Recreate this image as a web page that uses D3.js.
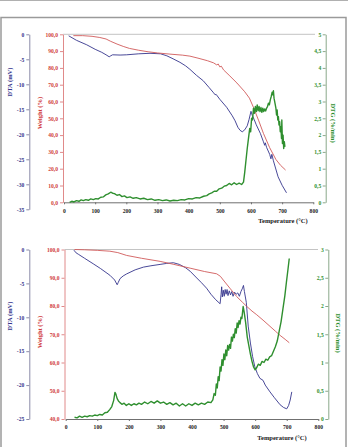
<!DOCTYPE html>
<html>
<head>
<meta charset="utf-8">
<script src="https://cdn.jsdelivr.net/npm/d3@7"></script>
<style>
body { margin: 0; background: #fff; }
svg text { font-family: "Liberation Serif", "Times New Roman", serif; font-weight: bold; }
</style>
</head>
<body>
<svg id="chart" width="348" height="447"></svg>
<script>
// ---- data: [temperature °C, value] ----
const tempTicks = [0, 100, 200, 300, 400, 500, 600, 700, 800];

// panel 1
const topDtaTicks = [-35, -30, -25, -20, -15, -10, -5, 0];
const topWeightTicks = [0, 10, 20, 30, 40, 50, 60, 70, 80, 90, 100];
const topDtgTicks = [0, 0.5, 1, 1.5, 2, 2.5, 3, 3.5, 4, 4.5, 5];

const topWeight = [[30,99.2],[60,99.2],[90,98.8],[115,98.1],[135,97.2],[150,95.8],[170,94.2],[190,92.8],[210,91.6],[240,90.5],[270,89.6],[300,88.9],[340,88.2],[380,87.6],[404,87.0],[430,85.8],[460,84.3],[480,83.0],[490,81.8],[495,82.3],[500,80.6],[505,81.0],[512,78.8],[530,75.6],[555,71.0],[580,65.8],[595,62.0],[608,56.5],[625,48.5],[640,41.0],[660,32.5],[680,25.5],[695,22.0],[711,19.2]];

const topDta = [[15,-0.3],[40,-1.2],[73,-2.1],[100,-3.0],[121,-3.6],[135,-4.1],[145,-4.5],[150,-4.3],[156,-4.1],[180,-4.15],[201,-4.1],[240,-3.9],[276,-3.8],[310,-3.9],[330,-4.3],[350,-4.9],[372,-5.6],[390,-6.3],[404,-7.0],[425,-8.2],[447,-9.3],[465,-10.6],[480,-11.7],[485,-12.1],[488,-12.0],[500,-13.0],[522,-14.6],[540,-16.3],[549,-17.3],[558,-18.6],[565,-19.2],[572,-19.5],[580,-19.1],[588,-18.3],[594,-17.0],[600,-15.4],[604,-16.2],[610,-17.0],[617,-18.1],[630,-19.8],[640,-21.5],[644,-22.2],[646,-21.7],[650,-22.6],[660,-24.0],[664,-24.9],[667,-24.0],[672,-25.3],[687,-28.5],[700,-30.2],[714,-31.7]];

const topDtg = [[18,0.00],[25,0.03],[32,0.01],[40,0.05],[48,0.03],[55,0.07],[62,0.05],[70,0.08],[78,0.06],[86,0.1],[94,0.08],[102,0.11],[110,0.1],[118,0.15],[126,0.16],[134,0.22],[142,0.25],[150,0.3],[156,0.27],[162,0.26],[170,0.21],[178,0.23],[186,0.17],[194,0.19],[202,0.14],[212,0.16],[222,0.12],[232,0.14],[244,0.1],[256,0.12],[268,0.08],[280,0.1],[292,0.06],[304,0.08],[316,0.05],[328,0.07],[340,0.04],[352,0.06],[364,0.05],[376,0.08],[388,0.07],[400,0.11],[412,0.1],[424,0.14],[436,0.13],[448,0.18],[458,0.2],[466,0.25],[474,0.28],[482,0.33],[490,0.33],[498,0.4],[506,0.42],[514,0.48],[522,0.5],[530,0.56],[538,0.52],[546,0.58],[554,0.53],[562,0.57],[570,0.53],[576,0.6],[580,0.9],[584,1.25],[588,1.6],[592,1.9],[596,2.2],[599,2.1],[602,2.5],[605,2.45],[608,2.8],[611,2.65],[614,2.85],[617,2.7],[620,2.9],[623,2.72],[626,2.85],[629,2.7],[632,2.82],[635,2.68],[638,2.8],[641,2.7],[644,2.78],[647,2.72],[650,2.8],[653,2.85],[656,2.95],[659,2.9],[662,3.05],[665,3.15],[668,3.28],[670,3.2],[672,3.32],[674,3.1],[677,2.95],[680,2.8],[682,2.6],[684,2.75],[686,2.45],[688,2.55],[690,2.3],[692,2.4],[694,2.1],[696,2.25],[698,1.9],[699,2.45],[701,1.75],[703,2.0],[705,1.6],[707,1.8],[709,1.65]];

// panel 2
const botDtaTicks = [-25, -20, -15, -10, -5, 0];
const botWeightTicks = [40, 50, 60, 70, 80, 90, 100];
const botDtgTicks = [0, 0.5, 1, 1.5, 2, 2.5, 3];

const botWeight = [[28,100],[60,99.9],[100,99.7],[140,99.4],[165,98.9],[193,97.9],[240,96.9],[299,95.8],[340,94.8],[394,93.4],[440,92.2],[478,91.4],[490,90.5],[499,89.2],[520,86.3],[541,83.4],[560,81.3],[573,79.9],[590,78.2],[605,76.9],[625,75.0],[647,72.8],[665,71.0],[679,69.6],[695,68.2],[708,67.0]];

const botDta = [[26,-0.1],[33,-0.5],[40,-0.7],[60,-1.3],[87,-2.1],[110,-2.8],[140,-3.8],[155,-4.5],[163,-5.2],[166,-4.9],[172,-4.3],[182,-3.9],[193,-3.6],[220,-3.0],[246,-2.6],[270,-2.4],[299,-2.2],[320,-2.05],[341,-1.95],[360,-2.2],[380,-2.7],[394,-3.2],[415,-4.2],[430,-4.9],[446,-5.7],[460,-6.6],[475,-7.4],[489,-8.0],[492,-6.6],[494,-5.5],[496,-7.0],[499,-6.0],[502,-6.9],[505,-5.9],[508,-6.6],[511,-5.9],[514,-6.8],[518,-6.1],[522,-6.7],[526,-6.2],[530,-6.9],[535,-6.3],[540,-6.6],[545,-6.4],[550,-6.9],[555,-6.2],[560,-5.7],[563,-5.3],[566,-6.2],[572,-7.8],[578,-11.3],[585,-13.8],[592,-15.8],[599,-17.3],[607,-18.3],[615,-19.0],[625,-19.3],[632,-20.0],[647,-21.0],[660,-21.8],[679,-22.9],[690,-23.3],[700,-23.5],[706,-23.0],[711,-22.2],[716,-21.0]];

const botDtg = [[28,0.03],[36,0.02],[44,0.05],[52,0.03],[60,0.05],[68,0.04],[76,0.06],[84,0.05],[92,0.07],[100,0.06],[108,0.08],[116,0.07],[124,0.11],[132,0.12],[140,0.17],[146,0.22],[152,0.33],[156,0.47],[159,0.44],[163,0.36],[167,0.32],[172,0.29],[178,0.26],[185,0.28],[192,0.24],[200,0.27],[208,0.24],[216,0.27],[224,0.25],[232,0.28],[240,0.26],[250,0.3],[260,0.27],[270,0.31],[280,0.28],[290,0.32],[300,0.28],[310,0.3],[320,0.26],[330,0.29],[340,0.25],[350,0.28],[360,0.23],[370,0.27],[380,0.23],[390,0.27],[400,0.24],[410,0.28],[420,0.25],[430,0.28],[440,0.26],[450,0.3],[460,0.29],[466,0.34],[470,0.45],[474,0.42],[477,0.62],[480,0.55],[483,0.75],[486,0.68],[489,0.92],[492,0.85],[495,1.05],[498,0.95],[501,1.15],[504,1.05],[507,1.22],[510,1.12],[513,1.3],[516,1.22],[519,1.32],[522,1.25],[525,1.45],[528,1.38],[531,1.5],[534,1.44],[537,1.6],[540,1.52],[543,1.7],[546,1.62],[549,1.74],[552,1.68],[555,1.8],[558,1.78],[562,1.99],[565,1.9],[570,1.7],[575,1.45],[580,1.3],[585,1.15],[590,1.02],[595,0.92],[600,0.87],[604,0.9],[610,0.97],[616,0.95],[622,1.02],[628,1.0],[634,1.06],[640,1.04],[646,1.1],[652,1.12],[658,1.2],[664,1.28],[670,1.38],[676,1.55],[682,1.72],[688,1.95],[694,2.18],[699,2.42],[704,2.65],[708,2.84]];

// ---- colours ----
const blue = '#34348c', red = '#d03c3c', green = '#2f8f2f';

const svg = d3.select('#chart');

// outer frame
svg.append('line').attr('x1', 0).attr('x2', 348).attr('y1', 0.5).attr('y2', 0.5)
    .attr('stroke', '#b0b0b0');
svg.append('rect').attr('x', 1).attr('y', 17.5).attr('width', 345).attr('height', 440)
    .attr('fill', 'none').attr('stroke', '#9a9a9a').attr('stroke-width', 1.5);

const fmtW = v => d3.format('.1f')(v).replace('.', ',');
const fmtG = v => String(v).replace('.', ',');
const fmtD = v => String(v);   // plain hyphen, not the unicode minus

function styleAxis(g, lineCol, textCol) {
    g.select('.domain').attr('stroke', lineCol).attr('stroke-width', 1);
    g.selectAll('.tick line').attr('stroke', lineCol);
    g.selectAll('.tick text').attr('fill', textCol).style('font-size', '5.6px');
}

function rotTitle(text, x, y, angle, col) {
    svg.append('text')
        .attr('transform', `translate(${x},${y}) rotate(${angle})`)
        .attr('text-anchor', 'middle').attr('dy', '0.35em')
        .style('font-size', '6.5px').attr('fill', col)
        .text(text);
}

function drawPanel(p) {
    const x = d3.scaleLinear().domain([0, 800]).range([p.x0, p.x1]);
    const yW = d3.scaleLinear().domain(p.wDomain).range([p.yBase, p.yTop]);
    const yD = d3.scaleLinear().domain(p.dDomain).range([p.dBottom, p.yTop]);
    const yG = d3.scaleLinear().domain(p.gDomain).range([p.yBase, p.yTop]);

    // plot top border
    svg.append('line').attr('x1', p.wX).attr('x2', p.plotRight)
        .attr('y1', p.yTop).attr('y2', p.yTop).attr('stroke', '#c4c4c4');

    const gD = svg.append('g').attr('transform', `translate(${p.dX},0)`)
        .call(d3.axisLeft(yD).tickValues(p.dTicks).tickFormat(fmtD).tickSizeOuter(0).tickSizeInner(3).tickPadding(2));
    styleAxis(gD, '#8a8aa8', blue);

    const gW = svg.append('g').attr('transform', `translate(${p.wX},0)`)
        .call(d3.axisLeft(yW).tickValues(p.wTicks).tickFormat(fmtW).tickSizeOuter(0).tickSizeInner(3).tickPadding(2));
    styleAxis(gW, '#e08a8a', red);

    const gG = svg.append('g').attr('transform', `translate(${p.gX},0)`)
        .call(d3.axisLeft(yG).tickValues(p.gTicks).tickFormat(fmtG).tickSizeOuter(0).tickSizeInner(3).tickPadding(1.5));
    styleAxis(gG, '#8aa88a', green);

    const gX = svg.append('g').attr('transform', `translate(0,${p.yBase})`)
        .call(d3.axisBottom(x).tickValues(tempTicks).tickSizeOuter(0).tickSizeInner(2).tickPadding(4.3));
    styleAxis(gX, '#707070', '#222');

    svg.append('text').attr('x', p.tTitleX).attr('y', p.tTitleY)
        .attr('text-anchor', 'middle').attr('dy', '0.35em')
        .style('font-size', '6.5px').attr('fill', '#222')
        .text('Temperature (°C)');
    rotTitle('DTA (mV)', 10, p.dTitleY, -90, blue);
    rotTitle('Weight (%)', 40, p.wTitleY, -90, red);
    rotTitle('DTG (%/min)', p.gTitleX, p.gTitleY, 90, green);

    const line = ys => d3.line().x(d => x(d[0])).y(d => ys(d[1]));

    svg.append('path').datum(p.dta).attr('d', line(yD))
        .attr('fill', 'none').attr('stroke', blue).attr('stroke-width', 0.9);
    svg.append('path').datum(p.weight).attr('d', line(yW))
        .attr('fill', 'none').attr('stroke', '#d05a5a').attr('stroke-width', 0.9);
    svg.append('path').datum(p.dtg).attr('d', line(yG))
        .attr('fill', 'none').attr('stroke', green).attr('stroke-width', 1.4)
        .attr('stroke-linejoin', 'round');
}

drawPanel({
    x0: 64, x1: 313.3, yTop: 34.3, yBase: 202.3, dBottom: 209.3, plotRight: 315,
    dX: 29.3, wX: 63, gX: 325.7,
    dDomain: [-35, 0], wDomain: [0, 100], gDomain: [0, 5],
    dTicks: topDtaTicks, wTicks: topWeightTicks, gTicks: topDtgTicks,
    tTitleX: 283, tTitleY: 221, dTitleY: 82, wTitleY: 113, gTitleX: 333, gTitleY: 123,
    weight: topWeight, dta: topDta, dtg: topDtg
});

drawPanel({
    x0: 65.7, x1: 318.3, yTop: 249.5, yBase: 419, dBottom: 419, plotRight: 318,
    dX: 29.3, wX: 64.5, gX: 328.3,
    dDomain: [-25, 0], wDomain: [40, 100], gDomain: [0, 3],
    dTicks: botDtaTicks, wTicks: botWeightTicks, gTicks: botDtgTicks,
    tTitleX: 282, tTitleY: 438, dTitleY: 316, wTitleY: 332, gTitleX: 338, gTitleY: 333,
    weight: botWeight, dta: botDta, dtg: botDtg
});
</script>
</body>
</html>
